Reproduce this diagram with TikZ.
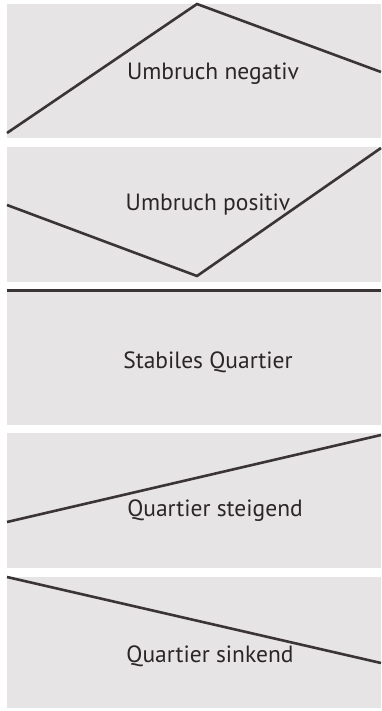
\documentclass[tikz,border=0pt]{standalone}
\usepackage{fontspec}
\setmainfont{PT Sans}
\definecolor{panelgray}{HTML}{E6E4E4}
\definecolor{linegray}{HTML}{3A3436}
\definecolor{textgray}{HTML}{2A2526}
\begin{document}
\begin{tikzpicture}[x=1pt,y=-1pt,
  panel/.style={fill=panelgray,draw=none},
  profile/.style={draw=linegray,line width=2.6pt,line join=miter},
  label/.style={text=textgray,font=\fontsize{23.5}{28}\selectfont,inner sep=0pt}]
\useasboundingbox (0,0) rectangle (381,711);
\fill[white] (0,0) rectangle (381,711);
% panels
\path[panel] (7,4) rectangle (381,138);
\path[panel] (7,147) rectangle (381,282);
\path[panel] (7,289) rectangle (381,425);
\path[panel] (7,433) rectangle (381,568);
\path[panel] (7,577) rectangle (381,708);
% panel 1
\coordinate (a1) at (7,133);
\coordinate (a2) at (197,4);
\coordinate (a3) at (381,72);
\draw[profile] (a1) -- (a2) -- (a3);
\node[label] (t1) at (213,74) {Umbruch negativ};
% panel 2
\coordinate (b1) at (7,205);
\coordinate (b2) at (197,276);
\coordinate (b3) at (381,148);
\draw[profile] (b1) -- (b2) -- (b3);
\node[label] (t2) at (208,205) {Umbruch positiv};
% panel 3
\coordinate (c1) at (7,290.5);
\coordinate (c2) at (381,290.5);
\draw[profile] (c1) -- (c2);
\node[label] (t3) at (208,362) {Stabiles Quartier};
% panel 4
\coordinate (d1) at (7,522);
\coordinate (d2) at (381,435);
\draw[profile] (d1) -- (d2);
\node[label] (t4) at (215,511) {Quartier steigend};
% panel 5
\coordinate (e1) at (7,577);
\coordinate (e2) at (381,663);
\draw[profile] (e1) -- (e2);
\node[label] (t5) at (210,656) {Quartier sinkend};
\end{tikzpicture}
\end{document}
